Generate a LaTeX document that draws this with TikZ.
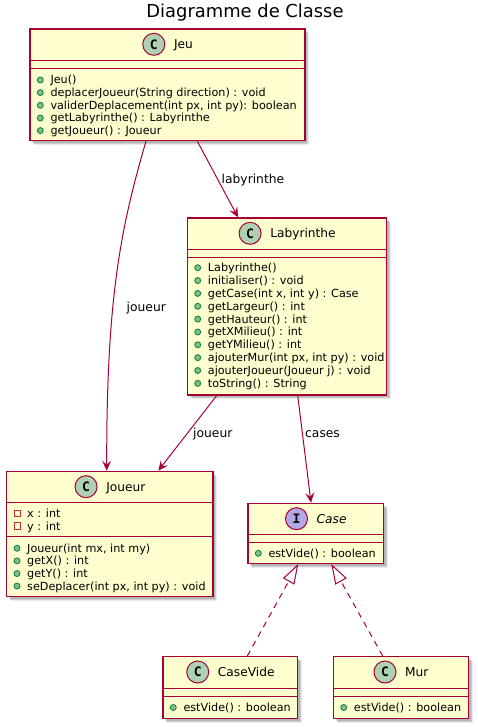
\documentclass[tikz,border=0pt]{standalone}
\usepackage{fontspec}
\setmainfont{DejaVu Sans}
\newfontfamily\iconfont{DejaVu Sans Mono}
\usetikzlibrary{arrows.meta,calc,shadows}
\definecolor{umlbg}{HTML}{FEFECE}
\definecolor{umlbord}{HTML}{A80036}
\definecolor{umlC}{HTML}{ADD1B2}
\definecolor{umlI}{HTML}{B4A7E5}
\definecolor{pubfill}{HTML}{84BE84}
\definecolor{pubdraw}{HTML}{038048}
\definecolor{privdraw}{HTML}{C82930}

\newcommand\memfont{\fontsize{11.2pt}{13pt}\selectfont}
\newcommand\namefont{\fontsize{12.2pt}{14pt}\selectfont}
\newcommand\lblfont{\fontsize{12.3pt}{14pt}\selectfont}
\newcommand\ttlfont{\fontsize{17.9pt}{21pt}\selectfont}

\tikzset{
 cls/.style={draw=umlbord, fill=umlbg, line width=1.25pt, inner sep=0pt, anchor=north west,
   drop shadow={shadow xshift=4.5pt, shadow yshift=-4.5pt, fill=black, opacity=0.08},
   drop shadow={shadow xshift=3.5pt, shadow yshift=-3.5pt, fill=black, opacity=0.12},
   drop shadow={shadow xshift=2.5pt, shadow yshift=-2.5pt, fill=black, opacity=0.12}},
 sepline/.style={draw=umlbord, line width=1.25pt},
 mtext/.style={anchor=base west, inner sep=0pt, font=\memfont},
 cname/.style={anchor=base, inner sep=0pt, font=\namefont},
 icon/.style={circle, draw=umlbord, line width=1pt, minimum size=22pt, inner sep=0pt,
   font=\iconfont\bfseries\fontsize{13pt}{13pt}\selectfont},
 pubdot/.style={draw=pubdraw, fill=pubfill, line width=0.8pt},
 privsq/.style={draw=privdraw, line width=1pt},
 assoc/.style={draw=umlbord, line width=1pt, -{Stealth[length=10pt, width=9pt, inset=4pt]}},
 impl/.style={draw=umlbord, line width=1pt, dash pattern=on 6pt off 5pt,
   -{Triangle[open, length=20pt, width=13pt]}},
 alabel/.style={anchor=base west, inner sep=0pt, font=\lblfont},
 ttl/.style={anchor=base, inner sep=0pt, font=\ttlfont},
}

% member helpers: box, id, y-offset of line centre from box top, text
\newcommand\pubm[4]{%
  \draw[pubdot] ($(#1.north west)+(11,#3)$) circle[radius=3pt];
  \node[mtext] (#1-#2) at ($(#1.north west)+(21,#3+4)$) {#4};}
\newcommand\privm[4]{%
  \draw[privsq] ($(#1.north west)+(8,#3-3.3)$) rectangle ++(6.6,6.6);
  \node[mtext] (#1-#2) at ($(#1.north west)+(21,#3+4)$) {#4};}
% header: box, letter, icon colour, name
\newcommand\chead[4]{%
  \node[cname] (#1-name) at ($(#1.north)+(16,20.4)$) {#4};
  \node[icon, fill=#3] (#1-icon) at ($(#1-name.west |- #1.north)+(-20,16)$) {#2};}
\newcommand\csep[2]{%
  \draw[sepline] ($(#1.north west)+(0,#2)$) -- ($(#1.north east)+(0,#2)$);}

\begin{document}
\begin{tikzpicture}[x=1pt, y=-1pt]
\useasboundingbox (0,0) rectangle (477,727);

\node[ttl] (title) at (245,17.5) {Diagramme de Classe};

% ---- Jeu
\node[cls, minimum width=275pt, minimum height=111.7pt] (jeu) at (29.3,28.3) {};
\csep{jeu}{32.4}\csep{jeu}{40}
\chead{jeu}{C}{umlC}{Jeu}
\pubm{jeu}{m1}{51.7}{Jeu()}
\pubm{jeu}{m2}{64.3}{deplacerJoueur(String direction) : void}
\pubm{jeu}{m3}{77}{validerDeplacement(int px, int py): boolean}
\pubm{jeu}{m4}{89.7}{getLabyrinthe() : Labyrinthe}
\pubm{jeu}{m5}{102.3}{getJoueur() : Joueur}

% ---- Labyrinthe
\node[cls, minimum width=199.3pt, minimum height=177pt] (laby) at (186.7,217.3) {};
\csep{laby}{32}\csep{laby}{40.4}
\chead{laby}{C}{umlC}{Labyrinthe}
\pubm{laby}{m1}{50.4}{Labyrinthe()}
\pubm{laby}{m2}{63.25}{initialiser() : void}
\pubm{laby}{m3}{76.1}{getCase(int x, int y) : Case}
\pubm{laby}{m4}{88.95}{getLargeur() : int}
\pubm{laby}{m5}{101.8}{getHauteur() : int}
\pubm{laby}{m6}{114.65}{getXMilieu() : int}
\pubm{laby}{m7}{127.5}{getYMilieu() : int}
\pubm{laby}{m8}{140.35}{ajouterMur(int px, int py) : void}
\pubm{laby}{m9}{153.2}{ajouterJoueur(Joueur j) : void}
\pubm{laby}{m10}{166.05}{toString() : String}

% ---- Joueur
\node[cls, minimum width=206.3pt, minimum height=125.3pt] (joueur) at (6,470.7) {};
\csep{joueur}{32}\csep{joueur}{66}
\chead{joueur}{C}{umlC}{Joueur}
\privm{joueur}{a1}{42.6}{x : int}
\privm{joueur}{a2}{55.3}{y : int}
\pubm{joueur}{m1}{77.6}{Joueur(int mx, int my)}
\pubm{joueur}{m2}{90.2}{getX() : int}
\pubm{joueur}{m3}{102.8}{getY() : int}
\pubm{joueur}{m4}{115.4}{seDeplacer(int px, int py) : void}

% ---- Case (interface)
\node[cls, minimum width=135.4pt, minimum height=60pt] (case) at (247.3,502.7) {};
\csep{case}{31.5}\csep{case}{39.8}
\chead{case}{I}{umlI}{\itshape Case}
\pubm{case}{m1}{50.6}{estVide() : boolean}

% ---- CaseVide
\node[cls, minimum width=134.6pt, minimum height=61.5pt] (casevide) at (162.3,656) {};
\csep{casevide}{32.5}\csep{casevide}{40.7}
\chead{casevide}{C}{umlC}{CaseVide}
\pubm{casevide}{m1}{51.5}{estVide() : boolean}

% ---- Mur
\node[cls, minimum width=135pt, minimum height=61.5pt] (mur) at (332.7,656) {};
\csep{mur}{32.5}\csep{mur}{40.7}
\chead{mur}{C}{umlC}{Mur}
\pubm{mur}{m1}{51.5}{estVide() : boolean}

% ---- connectors
\draw[assoc] ($(jeu.south west)+(168,0)$) -- ($(laby.north west)+(51.3,0)$);
\node[alabel] (l-laby) at (221.5,183.5) {labyrinthe};

\draw[assoc] ($(jeu.south west)+(116.7,0)$) .. controls (120,230) and (106.5,300) .. ($(joueur.north west)+(100.7,0)$);
\node[alabel] (l-joueur1) at (126.5,311) {joueur};

\draw[assoc] ($(laby.south west)+(30,0)$) -- ($(joueur.north west)+(152.3,0)$);
\node[alabel] (l-joueur2) at (193,437) {joueur};

\draw[assoc] ($(laby.south west)+(111,0)$) -- ($(case.north west)+(63.7,0)$);
\node[alabel] (l-cases) at (305,437) {cases};

\draw[impl] ($(casevide.north west)+(85,0)$) -- ($(case.south west)+(51,0)$);
\draw[impl] ($(mur.north west)+(50,0)$) -- ($(case.south west)+(84,0)$);
\end{tikzpicture}
\end{document}
